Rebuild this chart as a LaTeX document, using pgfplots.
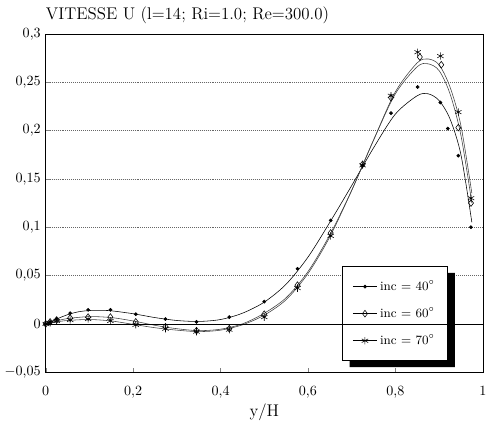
\documentclass[border=0pt]{standalone}
\usepackage{pgfplots}
\pgfplotsset{compat=1.18}

\begin{document}
\begin{tikzpicture}
\begin{axis}[
  scale only axis,
  width=310pt, height=240pt,
  xmin=0, xmax=1, ymin=-0.05, ymax=0.3,
  xtick={0,0.2,0.4,0.6,0.8,1},
  xticklabels={0,{0,2},{0,4},{0,6},{0,8},1},
  ytick={-0.05,0,0.05,0.1,0.15,0.2,0.25,0.3},
  yticklabels={{$-$0,05},0,{0,05},{0,1},{0,15},{0,2},{0,25},{0,3}},
  xticklabel style={yshift=-6pt},
  tick pos=left,
  tick align=inside,
  major tick length=3pt,
  ymajorgrids,
  grid style={densely dotted, black!60, thin},
  axis line style={black, thin},
  xlabel={\large y/H},
  xlabel style={yshift=3pt},
  clip=false,
  legend cell align=left,
  legend style={
    at={(rel axis cs:0.679,0.3125)}, anchor=north west,
    draw=black, fill=white, font=\small, name=leg,
    row sep=7pt, inner xsep=7pt, inner ysep=8pt,
  },
]
% fitted curves
\addplot[black, thin, smooth, forget plot] coordinates {
 (0,0) (0.025,0.005) (0.05,0.0095) (0.075,0.0125) (0.1,0.0138) (0.125,0.014)
 (0.15,0.0135) (0.2,0.0105) (0.25,0.0065) (0.3,0.0035) (0.35,0.0025) (0.4,0.0045)
 (0.45,0.011) (0.5,0.0225) (0.55,0.041) (0.6,0.069) (0.65,0.105) (0.7,0.143)
 (0.75,0.182) (0.8,0.217) (0.85,0.236) (0.875,0.238) (0.9,0.231) (0.925,0.212)
 (0.95,0.175) (0.975,0.105)
};
\addplot[black!75, thin, smooth, forget plot] coordinates {
 (0,0) (0.025,0.003) (0.05,0.0055) (0.1,0.0075) (0.15,0.0065) (0.2,0.003)
 (0.25,-0.0015) (0.3,-0.005) (0.35,-0.007) (0.4,-0.0055) (0.45,0) (0.5,0.011)
 (0.55,0.027) (0.6,0.054) (0.65,0.092) (0.7,0.138) (0.75,0.19) (0.8,0.238)
 (0.85,0.266) (0.875,0.269) (0.9,0.262) (0.925,0.238) (0.95,0.195) (0.975,0.125)
};
\addplot[black!75, thin, smooth, forget plot] coordinates {
 (0,0) (0.025,0.002) (0.05,0.0035) (0.1,0.0045) (0.15,0.003) (0.2,-0.0005)
 (0.25,-0.004) (0.3,-0.0065) (0.35,-0.008) (0.4,-0.0065) (0.45,-0.001) (0.5,0.009)
 (0.55,0.025) (0.6,0.052) (0.65,0.09) (0.7,0.138) (0.75,0.19) (0.8,0.24)
 (0.85,0.27) (0.875,0.274) (0.9,0.268) (0.925,0.245) (0.95,0.205) (0.975,0.135)
};
% measured points
\addplot[only marks, mark=*, mark size=1.1pt, black, forget plot] coordinates {
 (0,0) (0.01,0.002) (0.025,0.005) (0.056,0.011) (0.097,0.0145) (0.148,0.0145)
 (0.206,0.010) (0.274,0.005) (0.345,0.002) (0.42,0.007) (0.5,0.023) (0.576,0.057)
 (0.652,0.107) (0.725,0.164) (0.79,0.218) (0.851,0.245) (0.903,0.229) (0.92,0.202)
 (0.944,0.174) (0.973,0.100)
};
\addplot[only marks, mark=diamond, mark size=2.4pt, black, forget plot] coordinates {
 (0,0) (0.01,0.002) (0.025,0.004) (0.056,0.006) (0.097,0.007) (0.148,0.007)
 (0.206,0.002) (0.274,-0.003) (0.345,-0.007) (0.42,-0.005) (0.5,0.010) (0.576,0.040)
 (0.652,0.094) (0.725,0.165) (0.79,0.234) (0.856,0.276) (0.905,0.268) (0.944,0.203)
 (0.973,0.125)
};
\addplot[only marks, mark=asterisk, mark size=2.6pt, black, forget plot] coordinates {
 (0,0) (0.01,0.001) (0.025,0.003) (0.056,0.004) (0.097,0.005) (0.148,0.003)
 (0.206,-0.001) (0.274,-0.005) (0.345,-0.008) (0.42,-0.006) (0.5,0.007) (0.576,0.037)
 (0.652,0.091) (0.725,0.164) (0.79,0.236) (0.851,0.281) (0.903,0.277) (0.944,0.219)
 (0.973,0.130)
};
\addlegendimage{black, thin, mark=*, mark size=1.1pt}
\addlegendentry{inc = 40$^{\circ}$}
\addlegendimage{black, thin, mark=diamond, mark size=2.4pt}
\addlegendentry{inc = 60$^{\circ}$}
\addlegendimage{black, thin, mark=asterisk, mark size=2.6pt}
\addlegendentry{inc = 70$^{\circ}$}
\coordinate (z0) at (axis cs:0,0);
\coordinate (z1) at (axis cs:1,0);
\coordinate (topgap) at ([yshift=24pt]rel axis cs:0,1);
\node[anchor=south west, inner sep=0pt, font=\large] at ([yshift=7pt]rel axis cs:0,1)
  {VITESSE U (l=14; Ri=1.0; Re=300.0)};
\end{axis}
% legend shadow
\fill[black] ([yshift=-4.5pt]leg.north east) -- ([xshift=5pt,yshift=-4.5pt]leg.north east)
  -- ([xshift=5pt,yshift=-4.5pt]leg.south east) -- ([xshift=5pt,yshift=-4.5pt]leg.south west)
  -- ([xshift=5pt]leg.south west) -- (leg.south east) -- cycle;
\draw[black, thin] (z0) -- (z1);
\path (topgap);
\end{tikzpicture}
\end{document}
